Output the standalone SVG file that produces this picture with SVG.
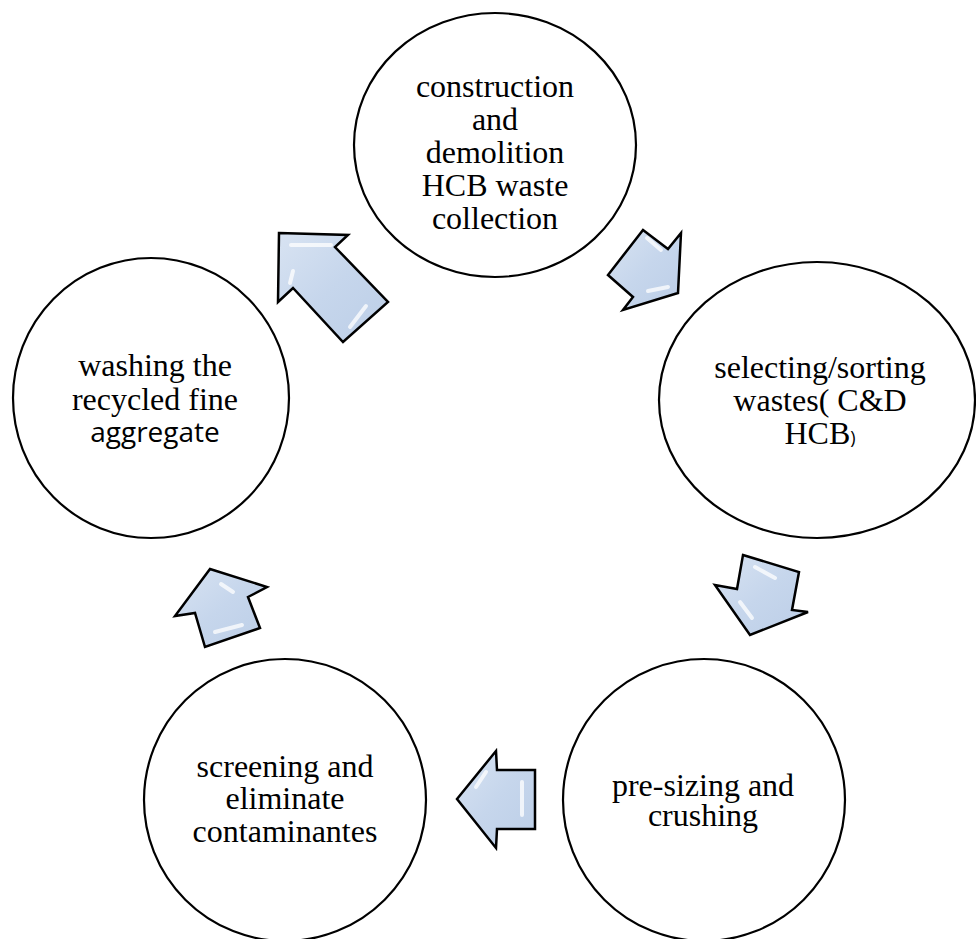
<svg xmlns="http://www.w3.org/2000/svg" width="976" height="939" viewBox="0 0 976 939">
  <style>
    .node { fill: #ffffff; stroke: #000000; stroke-width: 2.2; }
    .lbl { font-family: "Liberation Serif", "Times New Roman", serif; font-size: 32px; fill: #000000; text-anchor: middle; }
    .lbl-sans { font-family: "Open Sans", "Liberation Sans", sans-serif; font-size: 28px; fill: #000000; text-anchor: middle; }
    .arrow { fill: url(#arrowFill); stroke: #000000; stroke-width: 2.5; stroke-linejoin: miter; }
    .shine { fill: none; stroke: #ffffff; stroke-width: 4; stroke-linecap: round; opacity: 0.75; }
  </style>
  <defs>
    <linearGradient id="arrowFill" x1="0" y1="0" x2="1" y2="1">
      <stop offset="0" stop-color="#d8e3f2"/>
      <stop offset="0.5" stop-color="#c6d6ec"/>
      <stop offset="1" stop-color="#bccee7"/>
    </linearGradient>
  </defs>

  <rect width="976" height="939" fill="#ffffff"/>

  <!-- cycle arrows -->
  <g id="connectors">
    <g id="arrow-collection-to-sorting">
      <polygon class="arrow" points="643,230 668,249 681,233 678,293 623,310 633,297 608,275"/>
      <polyline class="shine" points="647,238 661,250"/>
      <polyline class="shine" points="648,291 668,287"/>
    </g>
    <g id="arrow-sorting-to-crushing">
      <polygon class="arrow" points="743,555 799,572 792,610 808,612 750,635 715,585 737,589"/>
      <polyline class="shine" points="755,567 775,578"/>
      <polyline class="shine" points="740,602 752,618"/>
    </g>
    <g id="arrow-crushing-to-screening">
      <polygon class="arrow" points="457,799 496,751 497,770 535,770 535,829 497,829 496,848"/>
      <polyline class="shine" points="476,787 486,772"/>
      <polyline class="shine" points="522,782 522,815"/>
    </g>
    <g id="arrow-screening-to-washing">
      <polygon class="arrow" points="210,569 267,587 248,597 260,628 205,647 195,613 175,616"/>
      <polyline class="shine" points="221,584 233,592"/>
      <polyline class="shine" points="215,632 242,625"/>
    </g>
    <g id="arrow-washing-to-collection">
      <polygon class="arrow" points="279,233 348,235 335,247 388,302 343,342 293,288 278,302"/>
      <polyline class="shine" points="291,245 331,245"/>
      <polyline class="shine" points="293,271 290,283"/>
      <polyline class="shine" points="366,306 350,327"/>
    </g>
  </g>

  <!-- process steps -->
  <g id="node-collection">
    <ellipse class="node" cx="495" cy="145" rx="141" ry="132"/>
    <text class="lbl" x="495" y="97">construction</text>
    <text class="lbl" x="495" y="130">and</text>
    <text class="lbl" x="495" y="163">demolition</text>
    <text class="lbl" x="495" y="196">HCB waste</text>
    <text class="lbl" x="495" y="229">collection</text>
  </g>

  <g id="node-sorting">
    <ellipse class="node" cx="817" cy="400" rx="158" ry="138"/>
    <text class="lbl" x="820" y="378">selecting/sorting</text>
    <text class="lbl" x="820" y="411">wastes( C&amp;D</text>
    <text class="lbl" x="820" y="444">HCB<tspan font-family="'Open Sans', 'Liberation Sans', sans-serif" font-size="18px">)</tspan></text>
  </g>

  <g id="node-crushing">
    <ellipse class="node" cx="704" cy="800" rx="141" ry="141"/>
    <text class="lbl" x="703" y="796">pre-sizing and</text>
    <text class="lbl" x="703" y="826">crushing</text>
  </g>

  <g id="node-screening">
    <ellipse class="node" cx="285" cy="800" rx="141" ry="141"/>
    <text class="lbl" x="285" y="777">screening and</text>
    <text class="lbl" x="285" y="809">eliminate</text>
    <text class="lbl" x="285" y="842">contaminantes</text>
  </g>

  <g id="node-washing">
    <ellipse class="node" cx="151" cy="398" rx="138" ry="140"/>
    <text class="lbl" x="155" y="376">washing the</text>
    <text class="lbl" x="155" y="410">recycled fine</text>
    <text class="lbl-sans" x="155" y="442">aggregate</text>
  </g>
</svg>
